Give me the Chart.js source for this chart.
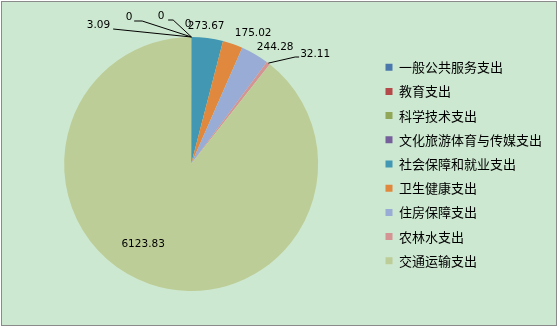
<!DOCTYPE html>
<html>
<head>
<meta charset="utf-8">
<script src="https://cdn.jsdelivr.net/npm/chart.js@4"></script>
<style>
  html, body { margin: 0; padding: 0; background: #fff; }
  .frame {
    position: absolute; left: 1px; top: 1px;
    width: 554px; height: 323px;
    border: 1px solid #8a8a8a;
    background: #cde8d0;
  }
  #pie { position: absolute; left: 0; top: 0; }
</style>
</head>
<body>
<div class="frame"></div>
<canvas id="pie" width="559" height="328"></canvas>
<script>
// ========== DATA ==========
const categories = ['一般公共服务支出', '教育支出', '科学技术支出', '文化旅游体育与传媒支出',
  '社会保障和就业支出', '卫生健康支出', '住房保障支出', '农林水支出', '交通运输支出'];
const amounts = [3.09, 0, 0, 0, 273.67, 175.02, 244.28, 32.11, 6123.83];
const valueLabels = ['3.09', '0', '0', '0', '273.67', '175.02', '244.28', '32.11', '6123.83'];

// ========== STYLE ==========
const sliceColors = ['#4a78ad', '#b5494a', '#8fa757', '#75609b', '#4298b3',
  '#df883e', '#98acd5', '#d49494', '#bccd97'];

// label placement, px from the pie centre; `via` = leader line bends
const labelSpots = [
  { dx: -81, dy: -139, align: 'right', via: [[-78, -135]] },
  { dx: -62, dy: -147, align: 'center', via: [[-49, -143], [-57, -143]] },
  { dx: -30, dy: -148, align: 'center', via: [[-18, -144], [-23, -144]] },
  { dx: -3, dy: -140, align: 'center' },
  { dx: 15, dy: -138, align: 'center' },
  { dx: 62, dy: -131, align: 'center' },
  { dx: 84, dy: -117, align: 'center' },
  { dx: 109, dy: -110, align: 'left', via: [[104, -107], [108, -107]] },
  { dx: -48, dy: 80, align: 'center' }
];

const valueLabelPlugin = {
  id: 'valueLabels',
  afterDatasetsDraw(chart) {
    const ctx = chart.ctx;
    const meta = chart.getDatasetMeta(0);
    ctx.save();
    ctx.font = '10.5px "DejaVu Sans", sans-serif';
    ctx.fillStyle = '#000';
    ctx.strokeStyle = '#000';
    ctx.lineWidth = 1;
    ctx.textBaseline = 'middle';
    meta.data.forEach((arc, i) => {
      const p = arc.getProps(['x', 'y', 'startAngle', 'endAngle', 'outerRadius'], true);
      const mid = (p.startAngle + p.endAngle) / 2;
      const ex = p.x + Math.cos(mid) * p.outerRadius;
      const ey = p.y + Math.sin(mid) * p.outerRadius;
      const spot = labelSpots[i];
      if (spot.via) {
        ctx.beginPath();
        ctx.moveTo(ex, ey);
        spot.via.forEach(([vx, vy]) => ctx.lineTo(p.x + vx, p.y + vy));
        ctx.stroke();
      }
      ctx.textAlign = spot.align;
      ctx.fillText(valueLabels[i], p.x + spot.dx, p.y + spot.dy);
    });
    ctx.restore();
  }
};

new Chart(document.getElementById('pie').getContext('2d'), {
  type: 'pie',
  data: {
    labels: categories,
    datasets: [{
      data: amounts,
      backgroundColor: sliceColors,
      borderWidth: 0
    }]
  },
  options: {
    responsive: false,
    animation: false,
    layout: { padding: { left: 8, right: 7, top: 37, bottom: 37 } },
    plugins: {
      legend: {
        position: 'right',
        labels: {
          color: '#000',
          font: { size: 13, family: '"Noto Sans CJK SC", sans-serif' },
          boxWidth: 7,
          boxHeight: 7,
          padding: 11.2,
          generateLabels: (chart) => categories.map((c, i) => ({
            text: c,
            fillStyle: sliceColors[i],
            strokeStyle: sliceColors[i],
            lineWidth: 0,
            hidden: false,
            index: i
          }))
        }
      },
      tooltip: { enabled: false }
    }
  },
  plugins: [valueLabelPlugin]
});
</script>
</body>
</html>
